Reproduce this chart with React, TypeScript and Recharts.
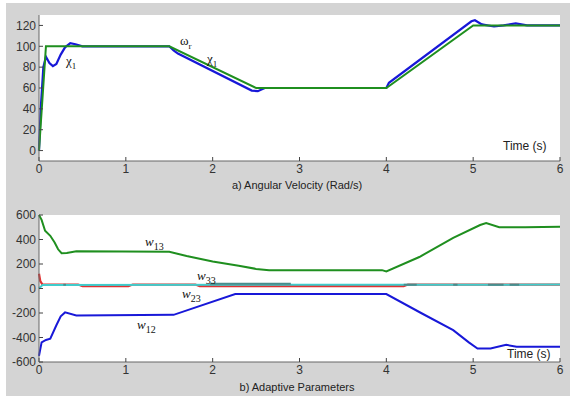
import React from "react";
import { LineChart, Line, XAxis, YAxis, CartesianGrid } from "recharts";

// axis ticks
const timeTicks = [0, 1, 2, 3, 4, 5, 6];
const speedTicks = [0, 20, 40, 60, 80, 100, 120];
const paramTicks = [-600, -400, -200, 0, 200, 400, 600];

// a) angular velocity: reference omega_r and state x1
const omegaT = [0, 0.08, 1.5, 2.5, 4, 5, 6];
const omegaV = [0, 100, 100, 60, 60, 120, 120];

const x1T = [0, 0.02, 0.05, 0.08, 0.12, 0.16, 0.2, 0.25, 0.3, 0.36, 0.42, 0.5, 1.5, 1.55, 1.6, 2.45, 2.52, 2.6, 4, 4.03, 4.98, 5.02, 5.1, 5.24, 5.35, 5.49, 5.62, 6];
const x1V = [0, 40, 80, 90, 84, 81, 83, 92, 99, 103, 102, 100, 100, 96, 93, 57.5, 57, 60, 60, 65, 124, 125, 121, 119, 120, 122, 120, 120];

// b) adaptive parameters
const w13T = [0, 0.03, 0.07, 0.13, 0.18, 0.22, 0.26, 0.32, 0.43, 1.5, 1.7, 2.0, 2.3, 2.5, 2.65, 3.95, 4.0, 4.38, 4.77, 5.08, 5.15, 5.3, 5.6, 6];
const w13V = [600, 560, 471, 430, 375, 320, 288, 290, 304, 300, 265, 220, 185, 160, 150, 150, 140, 257, 413, 518, 534, 500, 500, 505];

const w12T = [0, 0.03, 0.08, 0.13, 0.2, 0.25, 0.3, 0.43, 1.55, 2.26, 4.0, 4.4, 4.77, 4.95, 5.05, 5.2, 5.38, 5.5, 6];
const w12V = [-550, -440, -420, -410, -300, -227, -195, -220, -215, -45, -45, -200, -340, -440, -490, -490, -460, -476, -476];

const w23T = [0, 0.015, 0.04, 0.45, 0.5, 1.03, 1.08, 1.8, 1.85, 4.2, 4.25, 6];
const w23V = [120, 60, 32, 32, 20, 20, 32, 32, 20, 20, 32, 32];

const w33T = [0, 0.04, 6];
const w33V = [0, 28, 32];

// darker trace that shows through the cyan one in places
const w22T = [0.28, 0.31, 0.32, 1.97, 2.9, 2.91, 4.2, 4.35, 4.36, 4.77, 4.82, 4.83, 5.17, 5.35, 5.36, 5.42, 5.53];
const w22V = [30, 30, null, 38, 38, null, 30, 30, null, 30, 30, null, 30, 30, null, 30, 30];

const pts = (t: number[], v: (number | null)[]) => t.map((x, i) => ({ t: x, v: v[i] }));

const tickFont = { fill: "#333", fontSize: 12, fontFamily: "Liberation Sans, Arial, sans-serif" };
const labelFont: React.CSSProperties = {
  position: "absolute",
  fontSize: 11,
  lineHeight: "13px",
  fontFamily: "Liberation Sans, Arial, sans-serif",
  color: "#222",
  whiteSpace: "nowrap",
};
const symFont: React.CSSProperties = {
  position: "absolute",
  fontSize: 13,
  lineHeight: "14px",
  fontFamily: "Liberation Serif, DejaVu Serif, serif",
  color: "#111",
  whiteSpace: "nowrap",
};

const axisProps = {
  interval: 0 as const,
  tick: tickFont,
  tickSize: -4,
  tickMargin: 7,
  tickLine: { stroke: "#444" },
  axisLine: { stroke: "#666" },
};

export default function App() {
  return (
    <div style={{ position: "absolute", left: 0, top: 0, width: 570, height: 396, background: "#fff", overflow: "hidden" }}>
      <div style={{ position: "absolute", left: 6, top: 3, width: 564, height: 393, background: "#d4d4d4" }} />

      <div style={{ position: "absolute", left: 0, top: 0 }}>
        <LineChart width={570} height={191} margin={{ top: 15, right: 10, bottom: 0, left: 0 }}>
          <CartesianGrid horizontal={false} vertical={false} fill="#fff" stroke="none" />
          <XAxis type="number" dataKey="t" domain={[0, 6]} ticks={timeTicks} height={30} {...axisProps} />
          <YAxis type="number" domain={[-10, 130]} ticks={speedTicks} width={39} {...axisProps} />
          <Line data={pts(x1T, x1V)} dataKey="v" stroke="#1818d8" strokeWidth={2.2} dot={false} isAnimationActive={false} />
          <Line data={pts(omegaT, omegaV)} dataKey="v" stroke="#1f8f1f" strokeWidth={2} dot={false} isAnimationActive={false} />
        </LineChart>
      </div>

      <div style={{ position: "absolute", left: 0, top: 196 }}>
        <LineChart width={570} height={196} margin={{ top: 19, right: 10, bottom: 0, left: 0 }}>
          <CartesianGrid horizontal={false} vertical={false} fill="#fff" stroke="none" />
          <XAxis type="number" dataKey="t" domain={[0, 6]} ticks={timeTicks} height={30} {...axisProps} />
          <YAxis type="number" domain={[-600, 600]} ticks={paramTicks} width={39} {...axisProps} />
          <Line data={pts(w23T, w23V)} dataKey="v" stroke="#e03232" strokeWidth={2.2} dot={false} isAnimationActive={false} />
          <Line data={pts(w33T, w33V)} dataKey="v" stroke="#40cccc" strokeWidth={2} dot={false} isAnimationActive={false} />
          <Line data={pts(w22T, w22V)} dataKey="v" stroke="#4a8c8c" strokeWidth={2} dot={false} isAnimationActive={false} />
          <Line data={pts(w13T, w13V)} dataKey="v" stroke="#1f8f1f" strokeWidth={2} dot={false} isAnimationActive={false} />
          <Line data={pts(w12T, w12V)} dataKey="v" stroke="#1818d8" strokeWidth={2} dot={false} isAnimationActive={false} />
        </LineChart>
      </div>

      <div style={{ ...labelFont, left: 197, width: 200, top: 179, textAlign: "center" }}>a) Angular Velocity (Rad/s)</div>
      <div style={{ ...labelFont, left: 197, width: 200, top: 381, textAlign: "center" }}>b) Adaptive Parameters</div>
      <div style={{ ...labelFont, left: 503, top: 140, fontSize: 12 }}>Time (s)</div>
      <div style={{ ...labelFont, left: 507, top: 348, fontSize: 12 }}>Time (s)</div>

      <div style={{ ...symFont, left: 66, top: 54 }}>χ<sub style={{ fontSize: 9 }}>1</sub></div>
      <div style={{ ...symFont, left: 180, top: 34 }}>ω<sub style={{ fontSize: 9 }}>r</sub></div>
      <div style={{ ...symFont, left: 207, top: 52 }}>χ<sub style={{ fontSize: 9 }}>1</sub></div>

      <div style={{ ...symFont, left: 145, top: 235 }}><i>w</i><sub style={{ fontSize: 10 }}>13</sub></div>
      <div style={{ ...symFont, left: 197, top: 269 }}><i>w</i><sub style={{ fontSize: 10 }}>33</sub></div>
      <div style={{ ...symFont, left: 182, top: 287 }}><i>w</i><sub style={{ fontSize: 10 }}>23</sub></div>
      <div style={{ ...symFont, left: 137, top: 318 }}><i>w</i><sub style={{ fontSize: 10 }}>12</sub></div>
    </div>
  );
}
